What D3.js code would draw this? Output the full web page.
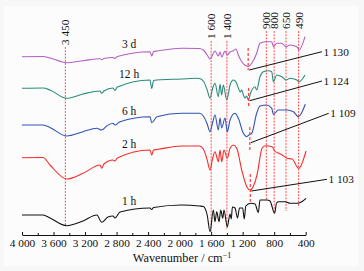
<!DOCTYPE html>
<html>
<head>
<meta charset="utf-8">
<script src="https://cdn.jsdelivr.net/npm/d3@7"></script>
<style>
  body { margin: 0; background: #f7f7f7; }
  text { font-family: "Liberation Serif", "Times New Roman", serif; fill: #111; }
</style>
</head>
<body>
<div id="chart"></div>
<script>
// spectra: [wavenumber, intensity (a.u., offset stacked)]
var spec3d = [[4000,179.3],[3733,179.5],[3645,178],[3433,173.3],[3226,175.3],[3010,177.3],[2989,176.3],[2960,177.5],
  [2845,178.5],[2820,177.5],[2790,179.5],[2376,184.3],[2354,180],[2330,184.5],[2287,185],[1973,187.7],[1750,187.5],
  [1699,186],[1650,181],[1614,177],[1551,185],[1509,180],[1487,184],[1466,179],[1424,185],[1395,181],[1360,184],
  [1318,185.3],[1284,187],[1255,181],[1212,174.3],[1173,171],[1128,169.3],[1085,172.7],[1022,182.7],[980,192.7],
  [912,194.3],[831,194.3],[810,189.3],[767,192.7],[704,192.7],[649,189.3],[598,191],[513,189.3],[484,186],[409,199.3]];

var spec12h = [[4000,147.7],[3733,148],[3645,146],[3433,137.7],[3226,142],[3010,145],[2989,142.7],[2960,145],
  [2845,148],[2820,145.5],[2790,149],[2376,156],[2354,147.5],[2330,155.5],[2287,156],[1973,157],[1800,157.7],
  [1750,157.5],[1699,155],[1650,146],[1614,137.7],[1580,148],[1551,152.7],[1509,139.3],[1487,151.7],[1466,141],
  [1445,151],[1402,136],[1360,151],[1318,156],[1284,154],[1255,148],[1230,144],[1212,146],[1191,141],[1170,138],
  [1150,140],[1128,136],[1100,143],[1043,149.3],[1022,146],[980,159.3],[938,164.3],[870,165.3],[831,164.3],
  [810,154.3],[767,161],[704,159.3],[649,156],[598,157.7],[513,156],[484,154.3],[409,161]];

var spec6h = [[4000,111],[3733,111],[3645,108.5],[3433,100],[3226,104.3],[3050,107.7],[2989,106],[2925,110],
  [2845,112.7],[2820,111],[2756,114.3],[2376,119.3],[2354,113.3],[2287,119.3],[1973,122.7],[1750,122.7],[1699,120],
  [1650,112],[1614,104.3],[1580,114],[1551,121],[1509,106],[1487,118],[1466,108],[1424,118],[1395,104.3],[1360,116],
  [1297,122.7],[1255,117.7],[1191,102.7],[1148,99.3],[1120,101],[1085,102.7],[1022,122.7],[980,130],[895,131],
  [831,127.7],[810,121.5],[747,126],[640,126],[556,124.3],[493,119.3],[405,131.7]];

var spec2h = [[4000,78.3],[3733,78.5],[3645,71],[3433,57],[3226,62.7],[3010,71],[2989,67.7],[2960,72],[2845,76],
  [2820,75],[2790,78],[2376,86],[2354,81],[2330,86],[2287,86.5],[1973,90],[1750,90],[1699,87],[1650,76],[1614,66],
  [1580,78],[1551,84.3],[1509,74.3],[1487,86],[1466,74.3],[1437,86],[1395,77.7],[1360,87.7],[1318,91],[1275,87.7],
  [1212,66],[1148,49.3],[1103,46],[1018,61],[954,87.7],[912,90.3],[827,89.3],[792,85],[742,82.7],[700,81],
  [636,77.7],[573,77],[488,67.7],[396,85]];

var spec1h = [[4000,21],[3733,21],[3645,18],[3433,10.3],[3226,15],[3050,21],[2989,13.7],[2909,19],[2845,20],
  [2820,18],[2756,24],[2376,28],[2354,26.5],[2330,28.5],[1973,31],[1750,30],[1699,29.5],[1650,21],[1614,4.3],
  [1572,26],[1551,14.3],[1529,24.3],[1500,14.3],[1478,26],[1453,17.7],[1437,26],[1395,9.3],[1360,22],[1345,17],
  [1330,29],[1297,28],[1265,18],[1240,28],[1200,28],[1180,17],[1160,30],[1100,32.7],[1043,32],[1001,23.5],
  [980,36],[895,36],[853,35],[795,22.7],[770,33],[742,34.3],[662,34.3],[598,32.7],[513,32.7],[450,34.3],[396,37.7]];

var seriesNames = ["3 d", "12 h", "6 h", "2 h", "1 h"];
var seriesData = [spec3d, spec12h, spec6h, spec2h, spec1h];
var seriesColors = ["#b45fc4", "#2a8a7a", "#2f52b4", "#fa2a2a", "#111111"];
var seriesLabelY = [188, 158, 121, 88, 31];
var seriesLabelWn = 2640;

// reference bands (red dashed)
var refWn = [3450, 1600, 1400, 900, 800, 650, 490];
var refLabels = ["3 450", "1 600", "1 400", "900", "800", "650", "490"];
var refTop = [189, 195, 195, 205, 205, 205, 205];
var refBottom = [10, 4.3, 6, 36, 24, 25, 29];

// Si-O-Si shift markers
var shiftWn = [1130, 1124, 1109, 1103];
var shiftLabels = ["1 130", "1 124", "1 109", "1 103"];
var shiftTop = [188, 148, 109, 62];
var shiftBottom = [166, 129, 86, 34.3];
var leaderFrom = [166, 135.3, 93.3, 45];
var leaderToWn = [193, 193, 108, 130];
var leaderToY = [184.3, 155, 122.7, 56.7];

var xTicks = d3.range(400, 4001, 200);
var xTickLabels = ["400", "800", "1 200", "1 600", "2 000", "2 400", "2 800", "3 200", "3 600", "4 000"];

var width = 364, height = 271;
var svg = d3.select("#chart").append("svg")
    .attr("width", width)
    .attr("height", height);

svg.append("rect").attr("x", 4).attr("y", 6).attr("width", 354).attr("height", 260).attr("fill", "#fcfcfc");

var x = d3.scaleLinear().domain([4000, 400]).range([22, 305.7]);
var y = d3.scaleLinear().domain([0, 210]).range([236, 26]);

// x axis
var axis = svg.append("g")
    .attr("transform", "translate(0,235)")
    .call(d3.axisBottom(x)
        .tickValues(xTicks)
        .tickSizeInner(-3)
        .tickSizeOuter(0)
        .tickPadding(4)
        .tickFormat(function (d) {
            var i = xTickLabels.indexOf(d3.format(",")(d).replace(",", " "));
            return i >= 0 ? xTickLabels[i] : "";
        }));
axis.select(".domain").attr("stroke", "#111");
axis.selectAll(".tick line").attr("stroke", "#111")
    .attr("y2", function (d) { return d % 400 === 0 ? -3 : -2; });
axis.selectAll(".tick text")
    .style("font-family", "Liberation Serif, serif")
    .style("font-size", "11.3px")
    .attr("fill", "#111");

svg.append("text")
    .attr("x", 182)
    .attr("y", 262)
    .attr("text-anchor", "middle")
    .style("font-size", "12.3px")
    .html("Wavenumber / cm<tspan dy='-4' font-size='8px'>−1</tspan>");

// reference lines
refWn.forEach(function (wn, i) {
    svg.append("line")
        .attr("x1", x(wn)).attr("x2", x(wn))
        .attr("y1", y(refTop[i])).attr("y2", y(refBottom[i]))
        .attr("stroke", "#ff3b3b")
        .attr("stroke-width", 0.9)
        .attr("stroke-dasharray", "2,1.2");
    svg.append("text")
        .attr("transform", "translate(" + (x(wn) + 4) + "," + (y(refTop[i]) - 2) + ") rotate(-90)")
        .attr("text-anchor", "start")
        .style("font-size", "11.3px")
        .text(refLabels[i]);
});

// spectra
var line = d3.line()
    .x(function (d) { return x(d[0]); })
    .y(function (d) { return y(d[1]); })
    .curve(d3.curveMonotoneX);

seriesData.forEach(function (s, i) {
    svg.append("path")
        .datum(s)
        .attr("fill", "none")
        .attr("stroke", seriesColors[i])
        .attr("stroke-width", 1.1)
        .attr("d", line);
    svg.append("text")
        .attr("x", x(seriesLabelWn))
        .attr("y", y(seriesLabelY[i]))
        .attr("text-anchor", "middle")
        .style("font-size", "11.5px")
        .text(seriesNames[i]);
});

// shift markers + leader lines
shiftWn.forEach(function (wn, i) {
    svg.append("line")
        .attr("x1", x(wn)).attr("x2", x(wn))
        .attr("y1", y(shiftTop[i])).attr("y2", y(shiftBottom[i]))
        .attr("stroke", "#ff3b3b")
        .attr("stroke-width", 1.2)
        .attr("stroke-dasharray", "3,2");
    svg.append("line")
        .attr("x1", x(wn) + 1).attr("y1", y(leaderFrom[i]))
        .attr("x2", x(leaderToWn[i])).attr("y2", y(leaderToY[i]))
        .attr("stroke", "#111")
        .attr("stroke-width", 1);
    svg.append("text")
        .attr("x", x(leaderToWn[i]) + 1.5)
        .attr("y", y(leaderToY[i]))
        .attr("dy", "0.35em")
        .style("font-size", "11.3px")
        .text(shiftLabels[i]);
});
</script>
</body>
</html>
